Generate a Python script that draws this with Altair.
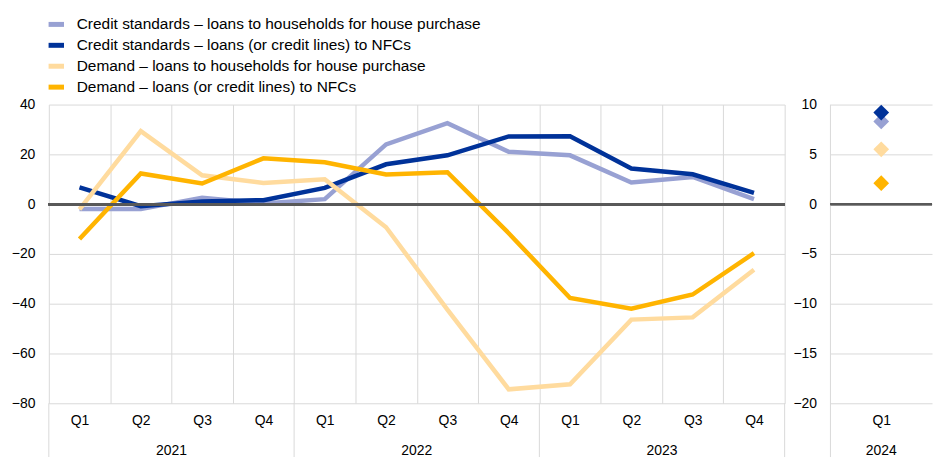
import altair as alt
import pandas as pd

# ---------------- data ----------------
years = ["2021", "2022", "2023"]
quarters = ["Q1", "Q2", "Q3", "Q4"]
periods = [f"{y} {q}" for y in years for q in quarters]

series = [
    "Credit standards – loans to households for house purchase",
    "Credit standards – loans (or credit lines) to NFCs",
    "Demand – loans to households for house purchase",
    "Demand – loans (or credit lines) to NFCs",
]
colors = ["#98a1d3", "#003299", "#ffdb9e", "#ffb400"]

cs_hh = [-2.0, -2.0, 2.6, 0.3, 2.0, 24.0, 32.5, 21.0, 19.6, 8.7, 10.9, 2.0]
cs_nfc = [6.7, -0.8, 1.1, 1.6, 6.5, 16.0, 19.6, 27.2, 27.3, 14.3, 12.0, 4.5]
d_hh = [-2.1, 29.3, 11.6, 8.5, 10.0, -9.3, -42.4, -74.4, -72.4, -46.4, -45.5, -26.4]
d_nfc = [-14.0, 12.3, 8.3, 18.4, 16.8, 11.9, 12.8, -11.7, -37.7, -42.0, -36.3, -19.7]

exp_period = ["2024 Q1"]
exp_values = [8.3, 9.2, 5.5, 2.1]  # same order as series
exp_year = ["2024"]

left_ticks = [-80, -60, -40, -20, 0, 20, 40]
right_ticks = [-20, -15, -10, -5, 0, 5, 10]

# ---------------- tables ----------------
rows = []
for name, vals in zip(series, [cs_hh, cs_nfc, d_hh, d_nfc]):
    for p, v in zip(periods, vals):
        rows.append({"period": p, "series": name, "value": v})
df_left = pd.DataFrame(rows)
df_right = pd.DataFrame({"period": exp_period * 4, "series": series, "value": exp_values})

year_mid = pd.DataFrame({"period": [f"{y} Q3" for y in years], "year": years})
year_start = pd.DataFrame({"period": [f"{y} Q1" for y in years]})
year_end = pd.DataFrame({"period": [periods[-1]]})
right_year = pd.DataFrame({"period": exp_period, "year": exp_year})

W_LEFT, W_RIGHT, H = 739, 102, 300
FONT = "Liberation Sans"
GRID = "#d9d9d9"

color = alt.Color(
    "series:N",
    scale=alt.Scale(domain=series, range=colors),
    legend=alt.Legend(
        title=None,
        orient="none",
        legendX=-3,
        legendY=-91,
        direction="vertical",
        symbolType="stroke",
        symbolStrokeWidth=5,
        symbolSize=240,
        labelFontSize=15.5,
        labelFont=FONT,
        labelColor="#000000",
        labelLimit=700,
        rowPadding=-4,
        labelOffset=10,
    ),
)

def x_axis(grid=True):
    return alt.Axis(
        title=None,
        labelExpr="split(datum.value, ' ')[1]",
        tickBand="extent",
        grid=grid,
        gridColor=GRID,
        domain=False,
        ticks=False,
        labelPadding=10,
        labelAngle=0,
    )

def xband(domain, band_pos=0.5, grid=True):
    return alt.X(
        "period:N",
        scale=alt.Scale(domain=domain, type="band", paddingInner=0, paddingOuter=0),
        bandPosition=band_pos,
        axis=x_axis(grid),
    )

def yaxis(values):
    return alt.Axis(
        title=None,
        values=values,
        grid=True,
        gridColor=GRID,
        domain=False,
        ticks=False,
        tickSize=0,
        labelPadding=14,
    )

# ---------------- left panel ----------------
lines = alt.Chart(df_left).mark_line(strokeWidth=4.5).encode(
    x=xband(periods),
    y=alt.Y("value:Q", scale=alt.Scale(domain=[-80, 40], nice=False), axis=yaxis(left_ticks)),
    color=color,
)
zero_left = alt.Chart(df_left).mark_rule(color="#595959", strokeWidth=2.5).encode(y=alt.datum(0))
year_text = alt.Chart(year_mid).mark_text(fontSize=14, font=FONT, color="#000000", baseline="middle").encode(
    x=xband(periods, 0), y=alt.value(H + 48), text="year:N"
)
sep_start = alt.Chart(year_start).mark_rule(color=GRID, strokeWidth=1).encode(
    x=xband(periods, 0), y=alt.value(H), y2=alt.value(H + 54)
)
sep_end = alt.Chart(year_end).mark_rule(color=GRID, strokeWidth=1).encode(
    x=xband(periods, 1), y=alt.value(H), y2=alt.value(H + 54)
)
left = alt.layer(sep_start, sep_end, lines, zero_left, year_text).properties(width=W_LEFT, height=H)

# ---------------- right panel ----------------
pts = alt.Chart(df_right).mark_point(shape="diamond", filled=True, size=250, opacity=1).encode(
    x=xband(exp_period, grid=False),
    y=alt.Y("value:Q", scale=alt.Scale(domain=[-20, 10], nice=False), axis=yaxis(right_ticks)),
    color=alt.Color("series:N", scale=alt.Scale(domain=series, range=colors), legend=None),
)
zero_right = alt.Chart(df_right).mark_rule(color="#595959", strokeWidth=2.5).encode(y=alt.datum(0))
r_year = alt.Chart(right_year).mark_text(fontSize=14, font=FONT, color="#000000", baseline="middle").encode(
    x=xband(exp_period, 0.5, grid=False), y=alt.value(H + 48), text="year:N"
)
r_sep = alt.Chart(right_year).mark_rule(color=GRID, strokeWidth=1).encode(
    x=xband(exp_period, 0, grid=False), y=alt.value(0), y2=alt.value(H + 54)
)
right = alt.layer(r_sep, pts, zero_right, r_year).properties(width=W_RIGHT, height=H)

chart = (
    alt.hconcat(left, right, spacing=6)
    .resolve_scale(y="independent", x="independent")
    .properties(padding={"left": 3, "top": 5, "right": 0, "bottom": 0}, background="white")
    .configure_view(stroke=None)
    .configure_axis(labelFont=FONT, labelFontSize=14, labelColor="#000000")
)

chart.save("out.html", embed_options={"renderer": "svg", "actions": False})
